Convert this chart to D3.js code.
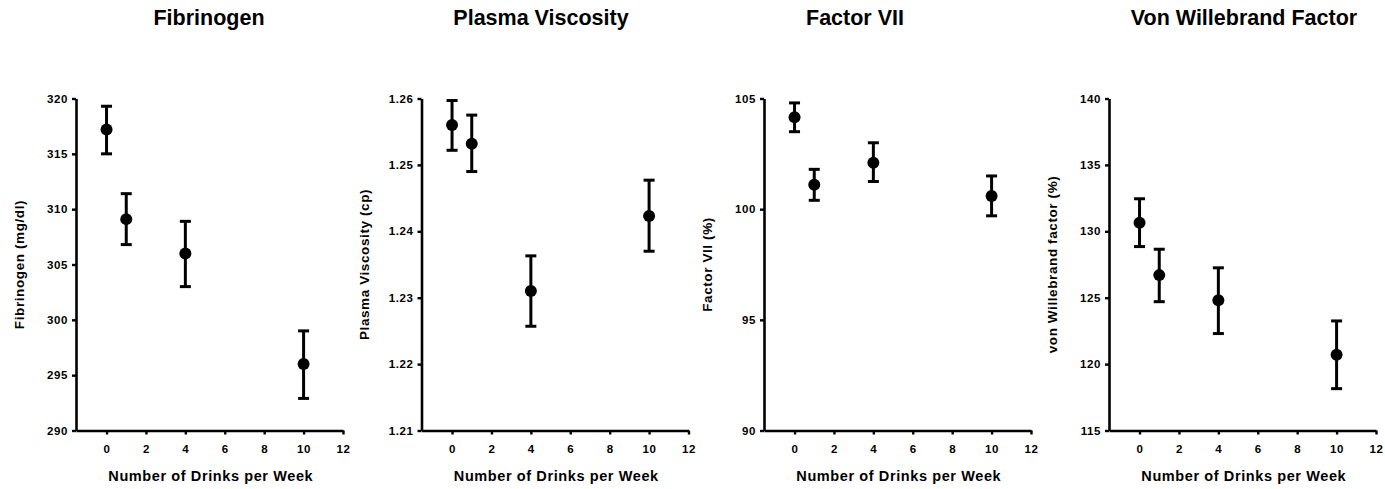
<!DOCTYPE html>
<html>
<head>
<meta charset="utf-8">
<script src="https://cdn.jsdelivr.net/npm/d3@7"></script>
<style>
  html, body { margin: 0; padding: 0; background: #fff; }
  svg { display: block; }
  text { font-family: "Liberation Sans", Arial, Helvetica, sans-serif; font-weight: bold; fill: #000; }
</style>
</head>
<body>
<svg id="chart" width="1385" height="489"></svg>
<script>
// ---- data ----
const drinks = [0, 1, 4, 10];
const xTicks = [0, 2, 4, 6, 8, 10, 12];

const titles = ["Fibrinogen", "Plasma Viscosity", "Factor VII", "Von Willebrand Factor"];
const yLabels = ["Fibrinogen (mg/dl)", "Plasma Viscosity (cp)", "Factor VII (%)", "von Willebrand factor (%)"];

const fibrinogenMean = [317.2, 309.1, 306.0, 296.0];
const fibrinogenLow  = [315.0, 306.8, 303.0, 292.9];
const fibrinogenHigh = [319.3, 311.4, 308.9, 299.0];
const fibrinogenTicks = [290, 295, 300, 305, 310, 315, 320];

const viscosityMean = [1.2560, 1.2532, 1.2310, 1.2423];
const viscosityLow  = [1.2522, 1.2490, 1.2257, 1.2370];
const viscosityHigh = [1.2597, 1.2575, 1.2363, 1.2477];
const viscosityTicks = [1.21, 1.22, 1.23, 1.24, 1.25, 1.26];

const factor7Mean = [104.15, 101.1, 102.1, 100.6];
const factor7Low  = [103.5, 100.4, 101.25, 99.7];
const factor7High = [104.8, 101.8, 103.0, 101.5];
const factor7Ticks = [90, 95, 100, 105];

const vwfMean = [130.65, 126.7, 124.8, 120.7];
const vwfLow  = [128.85, 124.7, 122.3, 118.15];
const vwfHigh = [132.45, 128.65, 127.25, 123.25];
const vwfTicks = [115, 120, 125, 130, 135, 140];

// ---- layout ----
const panels = [
  { title: titles[0], ylab: yLabels[0], mean: fibrinogenMean, low: fibrinogenLow, high: fibrinogenHigh, ticks: fibrinogenTicks, fmt: d3.format("d"), axisX: 76, titleX: 209 },
  { title: titles[1], ylab: yLabels[1], mean: viscosityMean, low: viscosityLow, high: viscosityHigh, ticks: viscosityTicks, fmt: d3.format(".2f"), axisX: 421.5, titleX: 541 },
  { title: titles[2], ylab: yLabels[2], mean: factor7Mean, low: factor7Low, high: factor7High, ticks: factor7Ticks, fmt: d3.format("d"), axisX: 764, titleX: 855 },
  { title: titles[3], ylab: yLabels[3], mean: vwfMean, low: vwfLow, high: vwfHigh, ticks: vwfTicks, fmt: d3.format("d"), axisX: 1109, titleX: 1244 }
];

const plotTop = 98.5, plotBottom = 430.5, plotW = 267;
const svg = d3.select("#chart");

panels.forEach(p => {
  const x = d3.scaleLinear().domain([-1.55, 12]).range([p.axisX, p.axisX + plotW]);
  const y = d3.scaleLinear().domain([d3.min(p.ticks), d3.max(p.ticks)]).range([plotBottom, plotTop]);
  const g = svg.append("g");

  // title
  g.append("text")
    .attr("x", p.titleX).attr("y", 25)
    .attr("text-anchor", "middle")
    .style("font-size", "21.5px")
    .text(p.title);

  // y axis
  const ya = g.append("g")
    .attr("transform", `translate(${p.axisX},0)`)
    .call(d3.axisLeft(y).tickValues(p.ticks).tickFormat(p.fmt).tickSize(4).tickPadding(4).tickSizeOuter(0));
  // x axis
  const xa = g.append("g")
    .attr("transform", `translate(0,${plotBottom})`)
    .call(d3.axisBottom(x).tickValues(xTicks).tickSize(4).tickPadding(10).tickSizeOuter(0));

  [ya, xa].forEach(a => {
    a.select(".domain").attr("stroke", "#000").attr("stroke-width", 2.6);
    a.selectAll(".tick line").attr("stroke", "#000").attr("stroke-width", 2.4);
    a.selectAll(".tick text").style("font-size", "11.5px").style("font-weight", "bold")
      .style("letter-spacing", "0.6px")
      .style("font-family", '"Liberation Sans", Arial, sans-serif').attr("fill", "#000");
  });

  // y label
  g.append("text")
    .attr("transform", `translate(${p.axisX - 57},${(plotTop + plotBottom) / 2}) rotate(-90)`)
    .attr("text-anchor", "middle")
    .attr("dominant-baseline", "central")
    .style("font-size", "13.5px")
    .style("letter-spacing", "0.6px")
    .text(p.ylab);

  // x label
  g.append("text")
    .attr("x", x(6) - 14).attr("y", 481)
    .attr("text-anchor", "middle")
    .style("font-size", "14.5px")
    .style("letter-spacing", "0.6px")
    .text("Number of Drinks per Week");

  // error bars and points
  const pts = drinks.map((d, i) => ({ d, m: p.mean[i], lo: p.low[i], hi: p.high[i] }));
  const eb = g.append("g");
  eb.selectAll("line.v").data(pts).join("line")
    .attr("x1", d => x(d.d)).attr("x2", d => x(d.d))
    .attr("y1", d => y(d.lo)).attr("y2", d => y(d.hi))
    .attr("stroke", "#000").attr("stroke-width", 3);
  eb.selectAll("line.capt").data(pts).join("line")
    .attr("x1", d => x(d.d) - 5.5).attr("x2", d => x(d.d) + 5.5)
    .attr("y1", d => y(d.hi)).attr("y2", d => y(d.hi))
    .attr("stroke", "#000").attr("stroke-width", 3);
  eb.selectAll("line.capb").data(pts).join("line")
    .attr("x1", d => x(d.d) - 5.5).attr("x2", d => x(d.d) + 5.5)
    .attr("y1", d => y(d.lo)).attr("y2", d => y(d.lo))
    .attr("stroke", "#000").attr("stroke-width", 3);
  eb.selectAll("circle").data(pts).join("circle")
    .attr("cx", d => x(d.d)).attr("cy", d => y(d.m)).attr("r", 6)
    .attr("fill", "#000");
});
</script>
</body>
</html>
